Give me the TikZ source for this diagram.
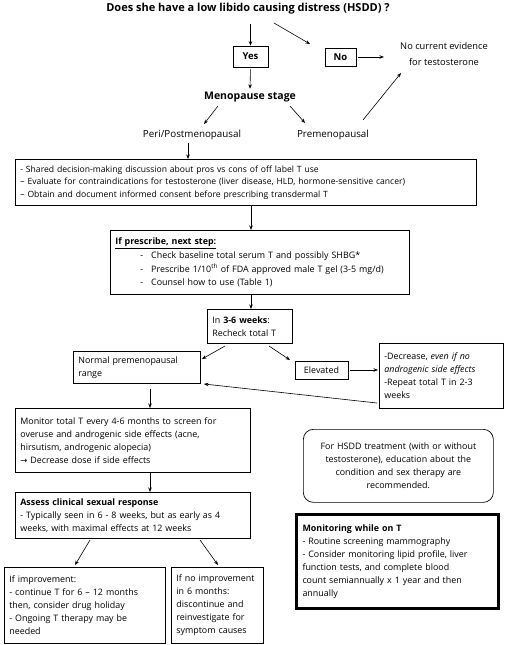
\documentclass[tikz,border=0pt]{standalone}
\usepackage{fontspec}
\setmainfont{Open Sans}
\newfontfamily\symfont{DejaVu Sans}
\usetikzlibrary{arrows.meta}
\begin{document}
\begin{tikzpicture}[x=1pt,y=-1pt,
  font=\fontsize{8.9}{13}\selectfont,
  box/.style={draw, line width=0.7pt, inner xsep=5pt, inner ysep=2pt, align=left, anchor=north west},
  small/.style={draw, line width=0.7pt, inner sep=0pt},
  plain/.style={inner sep=2pt},
  arr/.style={-{Stealth[length=4.5pt,width=3.5pt]}, line width=0.6pt}]
\useasboundingbox (0,0) rectangle (504,645);

% top part
\node[plain, font=\fontsize{11}{13}\selectfont\bfseries] (title) at (248,9) {Does she have a low libido causing distress (HSDD) ?};
\node[small, font=\fontsize{9.5}{13}\selectfont\bfseries, minimum width=35pt, minimum height=21pt] (yes) at (250.5,56.5) {Yes};
\node[small, font=\fontsize{9.5}{13}\selectfont\bfseries, minimum width=31pt, minimum height=18pt] (no) at (340.5,57) {No};
\node[plain, align=center, font=\fontsize{9.3}{15.5}\selectfont] (noev) at (444,54) {No current evidence\\for testosterone};
\node[plain, font=\fontsize{10.5}{12}\selectfont\bfseries] (meno) at (250,97) {Menopause stage};
\node[plain, font=\fontsize{9.8}{12}\selectfont] (peri) at (192,135) {Peri/Postmenopausal};
\node[plain, font=\fontsize{9.8}{12}\selectfont] (pre) at (333,135) {Premenopausal};

% boxes
\node[box, text width=451pt, minimum height=46pt, font=\fontsize{8.6}{12.5}\selectfont] (b1) at (15,159) {- Shared decision-making discussion about pros vs cons of off label T use\\
– Evaluate for contraindications for testosterone (liver disease, HLD, hormone-sensitive cancer)\\
– Obtain and document informed consent before prescribing transdermal T};

\node[box, text width=289pt, minimum height=64pt] (b2) at (110,230) {\textbf{\underline{If prescribe, next step:}}\\[1pt]
\hspace*{25pt}-\hspace{8pt}Check baseline total serum T and possibly SHBG*\\[1pt]
\hspace*{25pt}-\hspace{8pt}Prescribe 1/10\textsuperscript{th} of FDA approved male T gel (3-5 mg/d)\\
\hspace*{25pt}-\hspace{8pt}Counsel how to use (Table 1)};

\node[box, text width=75pt, minimum height=34pt] (b3) at (207,309) {In \textbf{3-6 weeks}:\\Recheck total T};

\node[box, text width=117pt, minimum height=32pt] (normal) at (73,351) {Normal premenopausal\\range};

\node[small, minimum width=53pt, minimum height=18pt] (elev) at (321.5,370) {Elevated};

\node[box, text width=114pt, minimum height=65pt] (dec) at (379,343) {-Decrease, \textit{even if no}\\\textit{androgenic side effects}\\-Repeat total T in 2-3\\weeks};

\node[box, text width=225pt, minimum height=64pt] (mon) at (15,408) {Monitor total T every 4-6 months to screen for\\overuse and androgenic side effects (acne,\\hirsutism, androgenic alopecia)\\{\symfont\fontsize{8.4}{13}\selectfont →} Decrease dose if side effects};

\node[box, text width=225pt, minimum height=46pt] (assess) at (15,492) {\textbf{Assess clinical sexual response}\\- Typically seen in 6 - 8 weeks, but as early as 4\\weeks, with maximal effects at 12 weeks};

\node[box, text width=151pt, minimum height=76pt] (imp) at (4,567) {If improvement:\\- continue T for 6 – 12 months\\then, consider drug holiday\\- Ongoing T therapy may be\\needed};

\node[box, text width=82pt, minimum height=76pt] (noimp) at (171,567) {If no improvement\\in 6 months:\\discontinue and\\reinvestigate for\\symptom causes};

\node[box, rounded corners=10pt, align=center, text width=180pt, minimum height=73pt] (hsdd) at (303,429) {For HSDD treatment (with or without\\testosterone), education about the\\condition and sex therapy are\\recommended.};

\node[box, line width=3pt, inner xsep=6pt, text width=190pt, minimum height=94pt] (montr) at (295,513) {\textbf{Monitoring while on T}\\- Routine screening mammography\\- Consider monitoring lipid profile, liver\\function tests, and complete blood\\count semiannually x 1 year and then\\annually};

% connector coordinates
\coordinate (cx) at (251,0);
\coordinate (t1) at (274,23);
\coordinate (t2) at (310,44);
\coordinate (ne) at (384,57);
\coordinate (m1) at (218,106);
\coordinate (m2) at (204,124);
\coordinate (m3) at (290,106);
\coordinate (m4) at (305,123);
\coordinate (p1) at (363,120);
\coordinate (p2) at (401,73);
\coordinate (q1) at (188,143);
\coordinate (r1) at (225,346);
\coordinate (r2) at (202,359);
\coordinate (r3) at (269,346);
\coordinate (r4) at (290,360);
\coordinate (d1) at (377,403);
\coordinate (d2) at (204,384);
\coordinate (cx2) at (150,0);
\coordinate (s1) at (90,540);
\coordinate (s2) at (75,565);
\coordinate (s3) at (200,540);
\coordinate (s4) at (218,565);

% connectors
\draw[arr, shorten <=7pt] (title.south -| yes.north) -- (yes.north);
\draw[arr] (t1) -- (t2);
\draw[arr, shorten <=2pt] (no.east) -- (ne);
\draw[arr, shorten <=2pt, shorten >=1pt] (yes.south) -- (meno.north);
\draw[arr] (m1) -- (m2);
\draw[arr] (m3) -- (m4);
\draw[arr] (p1) -- (p2);
\draw[arr] (q1) -- (q1 |- b1.north);
\draw[arr] (b1.south -| cx) -- (b2.north -| cx);
\draw[arr] (b2.south -| cx) -- (b3.north -| cx);
\draw[arr] (r1) -- (r2);
\draw[arr] (r3) -- (r4);
\draw[arr, shorten <=2pt, shorten >=1pt] (elev.east) -- (dec.west |- elev.east);
\draw[arr] (d1) -- (d2);
\draw[arr, shorten <=5pt] (normal.south -| cx2) -- (mon.north -| cx2);
\draw[arr] (mon.south -| cx2) -- (assess.north -| cx2);
\draw[arr] (s1) -- (s2);
\draw[arr] (s3) -- (s4);
\end{tikzpicture}
\end{document}
